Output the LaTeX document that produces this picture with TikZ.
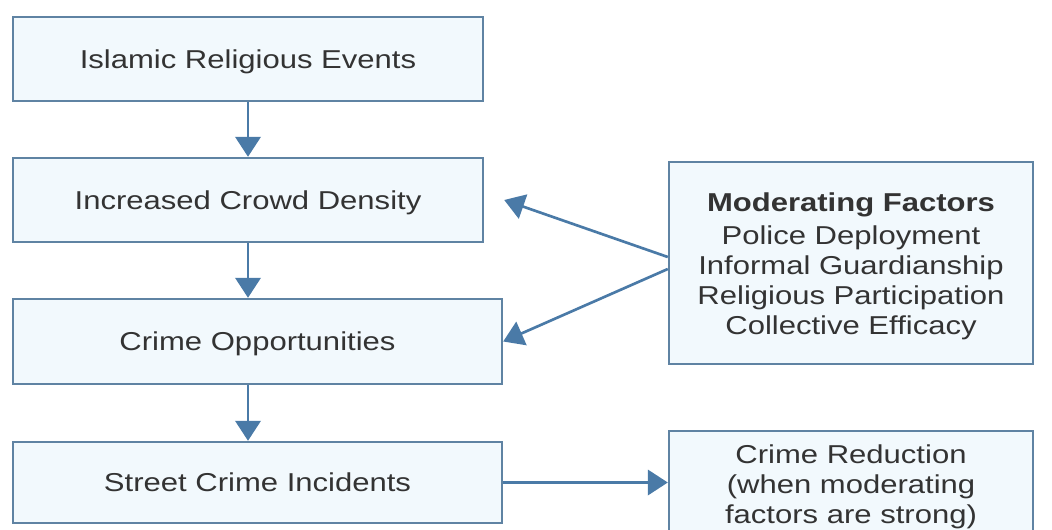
\documentclass[tikz,border=0pt]{standalone}
\usepackage{fontspec}
\setmainfont{Liberation Sans}[FakeStretch=1.2]
\usetikzlibrary{arrows.meta,calc}
\definecolor{boxline}{HTML}{5F83A3}
\definecolor{boxfill}{HTML}{F2F9FD}
\definecolor{arrowblue}{HTML}{4A7AA7}
\definecolor{textgray}{HTML}{333333}
% extra room above the first line of a multi-line box
\newcommand{\toproom}{\rule{0pt}{19.5pt}}
\begin{document}
\begin{tikzpicture}[x=0.75pt,y=-0.75pt,
  box/.style={draw=boxline, fill=boxfill, line width=1.8pt, inner sep=0pt,
    align=center, text=textgray, font=\fontsize{19.4}{22.5}\selectfont},
  oneline/.style={box, text height=14pt, text depth=0pt},
  flow/.style={draw=arrowblue, line width=2pt,
    -{Triangle[width=19pt,length=15pt]}}]
\useasboundingbox (0,0) rectangle (1052,529);
\clip (0,0) rectangle (1052,529);

% main chain
\node[oneline, minimum width=352.5pt, minimum height=63pt] (events) at (248,59) {Islamic Religious Events};
\node[oneline, minimum width=352.5pt, minimum height=63pt] (crowd) at (248,200) {Increased Crowd Density};
\node[oneline, minimum width=366.75pt, minimum height=63.75pt] (opps) at (257.5,341.5) {Crime Opportunities};
\node[oneline, minimum width=366.75pt, minimum height=60.75pt] (street) at (257.5,482.5) {Street Crime Incidents};

% side boxes
\node[box, minimum width=273pt, minimum height=151.5pt] (mod) at (851,263)
  {\toproom\textbf{Moderating Factors}\\[2.25pt] Police Deployment\\ Informal Guardianship\\ Religious Participation\\ Collective Efficacy};
\node[box, minimum width=273pt, minimum height=78pt] (reduce) at (851,483)
  {\toproom Crime Reduction\\ (when moderating\\ factors are strong)};

% vertical flow
\draw[flow] (events.south) -- (crowd.north);
\draw[flow] (crowd.south) -- (crowd.south |- opps.north);
\draw[flow] (crowd.south |- opps.south) -- (crowd.south |- street.north);

% moderating influences
\coordinate (modA) at ($(mod.west)+(0,-6)$);
\coordinate (modB) at ($(mod.west)+(0,6)$);
\coordinate (crowdTip) at ($(crowd.east)+(20,0)$);
\draw[flow] (modA) -- (crowdTip);
\draw[flow] (modB) -- (opps.east);

% outcome
\draw[flow] (street.east) -- (reduce.west |- street.east);
\end{tikzpicture}
\end{document}
